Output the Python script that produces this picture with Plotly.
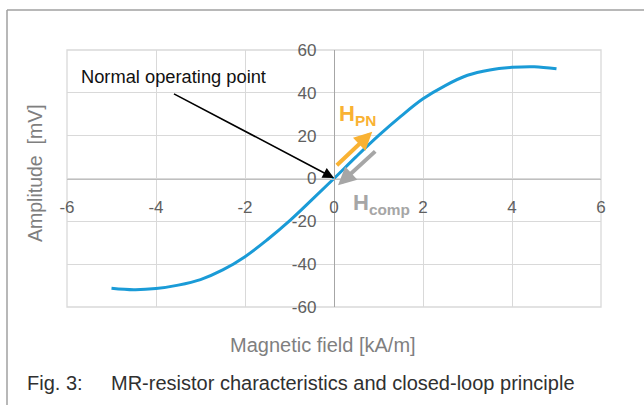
import plotly.graph_objects as go

# ---- data ----
field_kam = [-5.0, -4.5, -4.0, -3.5, -3.0, -2.5, -2.0, -1.5, -1.0, -0.5, 0.0,
             0.5, 1.0, 1.5, 2.0, 2.5, 3.0, 3.5, 4.0, 4.5, 5.0]
amplitude_mv = [-51.2, -51.9, -51.4, -49.8, -47.2, -42.7, -36.5, -28.6, -19.8, -10.0, 0.0,
                10.2, 20.0, 29.0, 37.2, 43.4, 48.2, 50.7, 51.9, 52.2, 51.2]
x_ticks = [-6, -4, -2, 0, 2, 4, 6]
y_ticks = [-60, -40, -20, 0, 20, 40, 60]

W, H = 644, 405
L, R, T, B = 67, 43, 50, 98
PW, PH = W - L - R, H - T - B

def px(p):
    return (p - L) / PW

def py(p):
    return (H - B - p) / PH

FONT = "Liberation Sans, Arial, sans-serif"
GRID = "#D9D9D9"

fig = go.Figure()
fig.add_trace(go.Scatter(
    x=field_kam, y=amplitude_mv, mode="lines",
    line=dict(color="#1A9BD7", width=3, shape="spline"),
    hoverinfo="skip", showlegend=False,
))

fig.update_layout(
    width=W, height=H,
    margin=dict(l=L, r=R, t=T, b=B, autoexpand=False),
    paper_bgcolor="white", plot_bgcolor="white",
    font=dict(family=FONT),
    xaxis=dict(range=[-6, 6], tickvals=x_ticks, ticktext=[str(v) for v in x_ticks],
               showgrid=True, gridcolor=GRID, gridwidth=1.3, zeroline=False,
               anchor="free", position=0.5, showline=True, linecolor="#BFBFBF", linewidth=1.3,
               ticks="", ticklabelstandoff=13, automargin=False,
               tickfont=dict(size=17, color="#606060", family=FONT)),
    yaxis=dict(range=[-60, 60], tickvals=y_ticks, ticktext=[str(v) for v in y_ticks],
               showgrid=True, gridcolor=GRID, gridwidth=1.3, zeroline=False,
               anchor="free", position=0.5, showline=True, linecolor="#A6A6A6", linewidth=1.3,
               ticks="", ticklabelstandoff=14, automargin=False,
               tickfont=dict(size=17, color="#606060", family=FONT)),
)

shapes = [
    dict(type="rect", xref="paper", yref="paper", x0=0, x1=1, y0=0, y1=1,
         line=dict(color=GRID, width=1.3), layer="below"),
    dict(type="line", xref="paper", yref="paper", x0=px(7), x1=px(W + 5), y0=py(10), y1=py(10),
         line=dict(color="#A0A0A0", width=1.5)),
    dict(type="line", xref="paper", yref="paper", x0=px(7), x1=px(7), y0=py(10), y1=py(H + 5),
         line=dict(color="#A0A0A0", width=1.5)),
]
fig.update_layout(shapes=shapes)

ann = []
# axis titles
ann.append(dict(text="Magnetic field [kA/m]", xref="paper", yref="paper",
                x=px(323), y=py(345), xanchor="center", yanchor="middle", showarrow=False,
                font=dict(size=20, color="#7F7F7F", family=FONT)))
ann.append(dict(text="Amplitude\u00a0 [mV]", xref="paper", yref="paper",
                x=px(35), y=py(173), xanchor="center", yanchor="middle",
                showarrow=False, textangle=-90,
                font=dict(size=19.5, color="#7F7F7F", family=FONT)))
# caption
ann.append(dict(text="Fig. 3:", xref="paper", yref="paper", x=px(25), y=py(383),
                xanchor="left", yanchor="middle", showarrow=False,
                font=dict(size=20, color="#303030", family=FONT)))
ann.append(dict(text="MR-resistor characteristics and closed-loop principle",
                xref="paper", yref="paper", x=px(109), y=py(383),
                xanchor="left", yanchor="middle", showarrow=False,
                font=dict(size=20, color="#303030", family=FONT)))
# Normal operating point
ann.append(dict(text="Normal operating point", x=-5.72, y=47.4, xanchor="left",
                yanchor="middle",
                showarrow=False, font=dict(size=18.3, color="#111111", family=FONT)))
ann.append(dict(text="", x=0.0, y=0.2, ax=-3.63, ay=39.9, axref="x", ayref="y",
                showarrow=True, arrowhead=2, arrowsize=1.4, arrowwidth=1.6,
                arrowcolor="#000000", standoff=0))
# H_PN arrow
ann.append(dict(text="", x=0.86, y=21.8, ax=0.03, ay=5.5, axref="x", ayref="y",
                showarrow=True, arrowhead=2, arrowsize=0.9, arrowwidth=4,
                arrowcolor="#F9B233", standoff=0))
ann.append(dict(text="<b>H<sub>PN</sub></b>", x=0.06, y=29.5, xanchor="left",
                yanchor="middle",
                showarrow=False, font=dict(size=22, color="#F9B233", family=FONT)))
# H_comp arrow
ann.append(dict(text="", x=0.09, y=-3.2, ax=0.96, ay=13.3, axref="x", ayref="y",
                showarrow=True, arrowhead=2, arrowsize=0.9, arrowwidth=4,
                arrowcolor="#A6A6A6", standoff=0))
ann.append(dict(text="<b>H<sub>comp</sub></b>", x=0.38, y=-12.0, xanchor="left",
                yanchor="middle",
                showarrow=False, font=dict(size=22, color="#A6A6A6", family=FONT)))
fig.update_layout(annotations=ann)

fig.write_html("out.html", config={"displayModeBar": False},
               post_script="document.body.style.margin='0';document.body.style.overflow='hidden';")
